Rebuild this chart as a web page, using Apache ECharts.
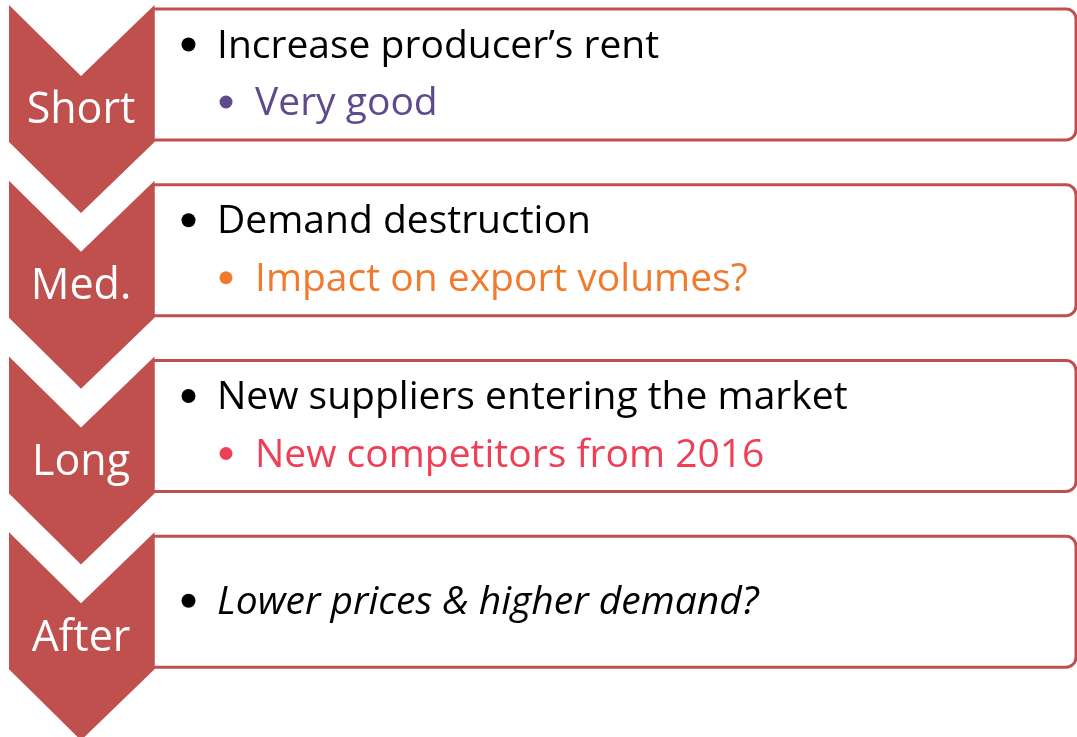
<!DOCTYPE html>
<html>
<head>
<meta charset="utf-8">
<script src="https://cdn.jsdelivr.net/npm/echarts@6/dist/echarts.min.js"></script>
<style>
  html, body { margin: 0; padding: 0; background: #ffffff; }
  #stepChart { width: 1077px; height: 737px; }
</style>
</head>
<body>
<div id="stepChart"></div>
<script>
// diagram content
var stages = ['Short', 'Med.', 'Long', 'After'];
var mainPoints = [
  'Increase producer\u2019s rent',
  'Demand destruction',
  'New suppliers entering the market',
  'Lower prices & higher demand?'
];
var subPoints = ['Very good', 'Impact on export volumes?', 'New competitors from 2016', ''];
var subColors = ['#5F4B8B', '#F07A2E', '#EE3F57', ''];
var mainItalic = [false, false, false, true];

var RED = '#C0504D';
var FONT = '"Open Sans", "Noto Sans", sans-serif';

function renderStep(params, api) {
  var idx = api.value(0);
  var band = api.size([0, 1])[1];
  var top = api.coord([0, idx])[1] - band / 2;
  var xl = api.coord([9, idx])[0];
  var xm = api.coord([81, idx])[0];
  var xr = api.coord([153, idx])[0];
  var xe = api.coord([1076, idx])[0];

  var notch = band * 0.404, side = band * 0.78, tip = band * 1.184;
  var hasSub = !!subPoints[idx];
  var children = [];

  // rounded box on the right
  children.push({
    type: 'rect',
    shape: { x: xr, y: top + 4, width: xe - xr, height: band * 0.745, r: [0, 10, 10, 0] },
    style: { fill: '#ffffff', stroke: RED, lineWidth: 3 }
  });
  // chevron
  children.push({
    type: 'polygon',
    shape: {
      points: [
        [xl, top], [xm, top + notch], [xr + 1.5, top],
        [xr + 1.5, top + side], [xm, top + tip], [xl, top + side]
      ]
    },
    style: { fill: RED }
  });
  children.push({
    type: 'text',
    style: {
      text: stages[idx], x: xm, y: top + 106,
      fill: '#ffffff', font: '43px ' + FONT, align: 'center', verticalAlign: 'middle'
    }
  });

  var capY = hasSub ? top + 39.5 : top + 68.5;
  var mainFont = (mainItalic[idx] ? 'italic ' : '') + '39px ' + FONT;
  children.push({
    type: 'circle',
    shape: { cx: api.coord([188.5, idx])[0], cy: capY, r: 7 },
    style: { fill: '#000000' }
  });
  children.push({
    type: 'text',
    style: { text: mainPoints[idx], x: api.coord([217, idx])[0], y: capY + 2, fill: '#000000',
      font: mainFont, align: 'left', verticalAlign: 'middle' }
  });
  if (hasSub) {
    var subY = top + 97;
    children.push({
      type: 'circle',
      shape: { cx: api.coord([226, idx])[0], cy: subY, r: 6.5 },
      style: { fill: subColors[idx] }
    });
    children.push({
      type: 'text',
      style: { text: subPoints[idx], x: api.coord([255, idx])[0], y: subY + 2, fill: subColors[idx],
        font: '39px ' + FONT, align: 'left', verticalAlign: 'middle' }
    });
  }
  return { type: 'group', children: children };
}

var myChart = echarts.init(document.getElementById('stepChart'));
var option = {
  animation: false,
  grid: { left: 0, right: 0, top: 5, bottom: 29 },
  xAxis: { type: 'value', min: 0, max: 1077, show: false },
  yAxis: { type: 'category', data: stages, inverse: true, show: false },
  series: [{
    type: 'custom',
    renderItem: renderStep,
    clip: false,
    encode: { y: 0 },
    data: stages.map(function (s, i) { return [i]; })
  }]
};
myChart.setOption(option);
window.addEventListener('resize', function () { myChart.resize(); });
</script>
</body>
</html>
